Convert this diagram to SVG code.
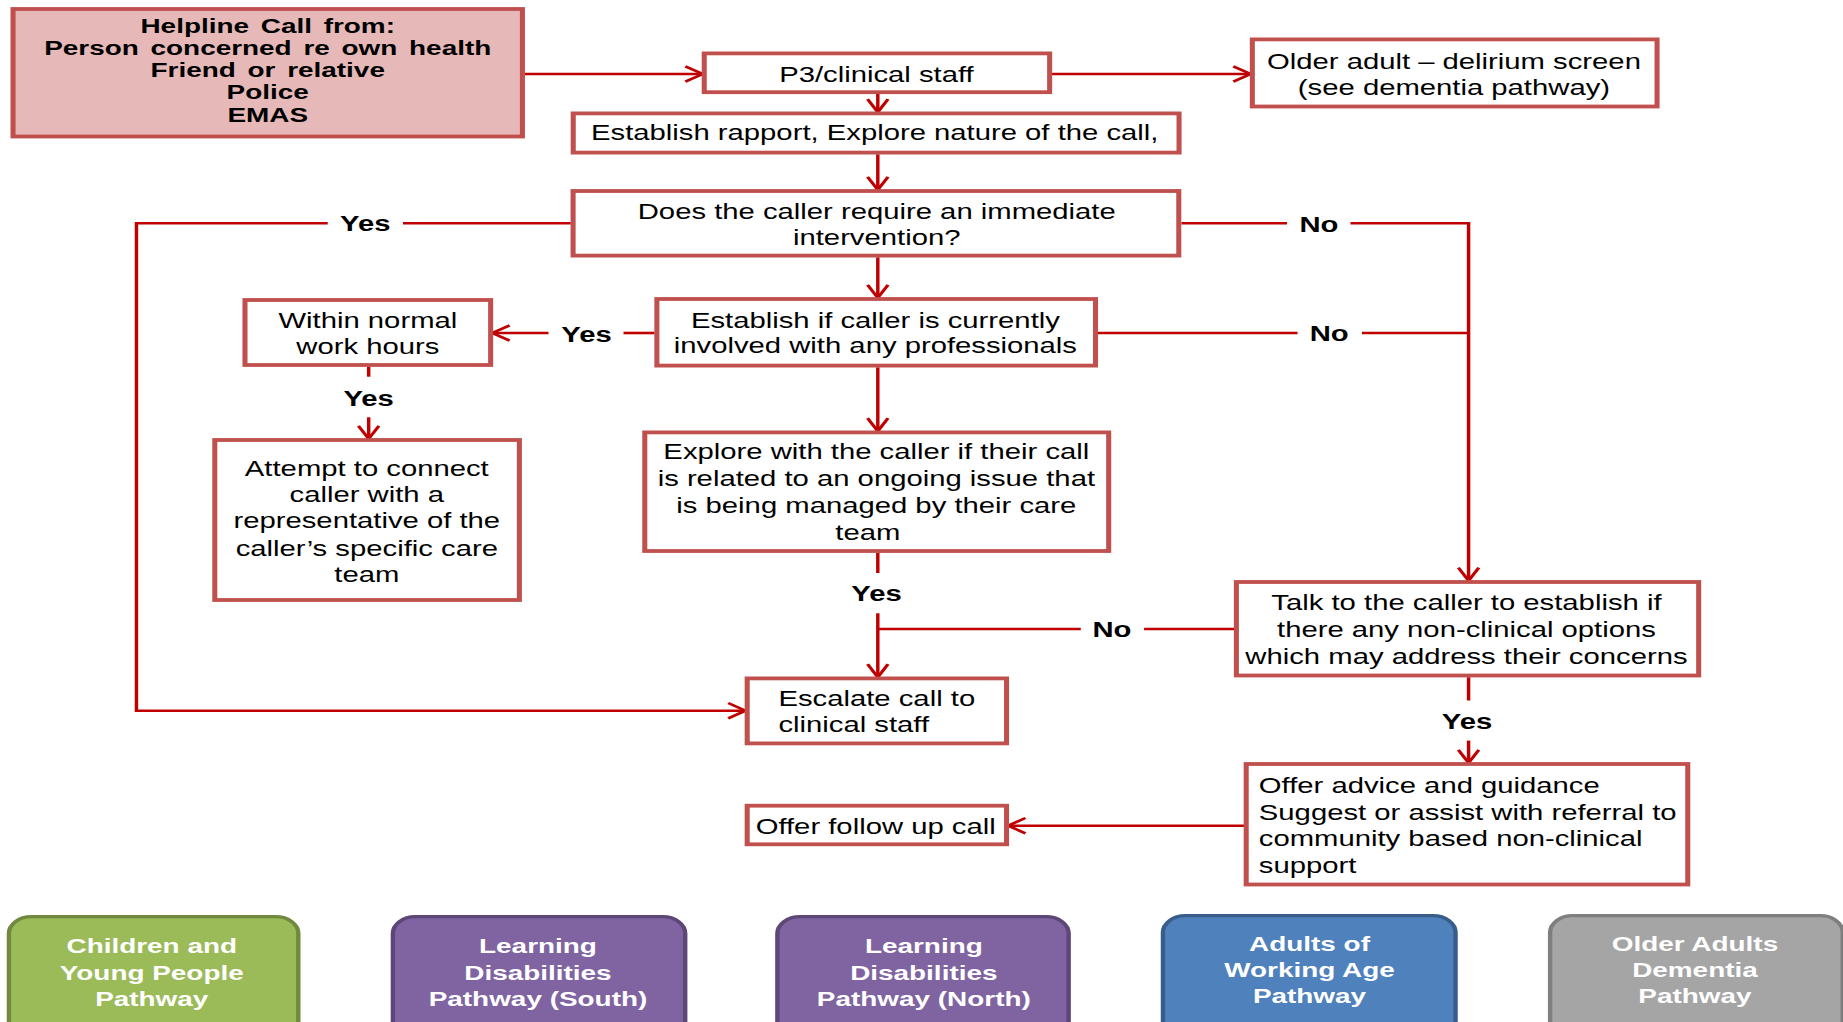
<svg xmlns="http://www.w3.org/2000/svg" width="1843" height="1022" viewBox="0 0 1843 1022">
  <style>
    .box { fill: #FFFFFF; stroke: #C0504D; stroke-width: 3.8; }
    .src { fill: #E6B8B7; }
    .t { font-family: "Liberation Sans", Arial, sans-serif; font-size: 22px; fill: #000000; text-anchor: middle; }
    .b { font-weight: bold; font-size: 21px; }
    .lbl { font-size: 22px; }
    .ws { word-spacing: 3px; }
    .l { text-anchor: start; }
    .w { fill: #FFFFFF; }
    .c { fill: none; stroke: #C00000; stroke-width: 2.6; }
    .ar { marker-end: url(#arr); }
    .pw { stroke-width: 3.3; }
    .green { fill: #9BBB59; stroke: #71893F; }
    .purple { fill: #8064A2; stroke: #5C4776; }
    .blue { fill: #4F81BD; stroke: #385D8A; }
    .grey { fill: #A5A5A5; stroke: #7F7F7F; }
  </style>
  <defs>
    <marker id="arr" markerUnits="userSpaceOnUse" markerWidth="20" markerHeight="20" refX="12.5" refY="7.7" orient="auto" overflow="visible">
      <path d="M0,0 L13,7.7 L0,15.4" fill="none" stroke="#C00000" stroke-width="2.6"/>
    </marker>
  </defs>

  <rect width="1843" height="1022" fill="#FFFFFF"/>

  <!-- the chart is laid out in a narrower space and stretched sideways -->
  <g transform="scale(1.33 1)">

    <g id="connectors">
      <path class="c ar" d="M394.5,74 H527.8"/>
      <path class="c ar" d="M791,74 H939.8"/>
      <path class="c ar" d="M660,94 V111.7"/>
      <path class="c ar" d="M660,154.3 V189.3"/>
      <path class="c ar" d="M660,257.3 V297.3"/>
      <path class="c ar" d="M660,367.3 V430.7"/>
      <path class="c" d="M660,552.7 V573"/>
      <path class="c ar" d="M660,613.3 V676.7"/>
      <path class="c" d="M927.8,629 H860.2"/>
      <path class="c" d="M812.6,629 H660"/>
      <path class="c" d="M429.1,223.3 H303"/>
      <path class="c ar" d="M246.4,223.3 H102.6 V710.7 H560"/>
      <path class="c" d="M888.3,223.3 H967.7"/>
      <path class="c ar" d="M1015.4,223.3 H1104.2 V580.2"/>
      <path class="c" d="M825.4,333 H975.6"/>
      <path class="c" d="M1024,333 H1104.2"/>
      <path class="c" d="M492.1,333 H468.8"/>
      <path class="c ar" d="M412.4,333 H370.7"/>
      <path class="c" d="M277.2,366.7 V376.7"/>
      <path class="c ar" d="M277.2,417.3 V438.3"/>
      <path class="c" d="M1104.2,677.2 V700.5"/>
      <path class="c ar" d="M1104.2,740.6 V762.3"/>
      <path class="c ar" d="M935.3,825.7 H758.5"/>

      <text class="t b lbl" x="274.6" y="231">Yes</text>
      <text class="t b lbl" x="991.7" y="232">No</text>
      <text class="t b lbl" x="441" y="341.7">Yes</text>
      <text class="t b lbl" x="999.4" y="341">No</text>
      <text class="t b lbl" x="277.2" y="406">Yes</text>
      <text class="t b lbl" x="659" y="600.7">Yes</text>
      <text class="t b lbl" x="836" y="636.7">No</text>
      <text class="t b lbl" x="1103" y="729">Yes</text>
    </g>

    <g id="helpline-call">
      <rect class="box src" x="9.8" y="9" width="383" height="127.5"/>
      <text class="t b ws" x="201.3" y="33.3">Helpline  Call from:</text>
      <text class="t b ws" x="201.3" y="55">Person concerned re own health</text>
      <text class="t b ws" x="201.3" y="77.3">Friend or relative</text>
      <text class="t b ws" x="201.3" y="99.3">Police</text>
      <text class="t b ws" x="201.3" y="121.7">EMAS</text>
    </g>

    <g id="p3-clinical-staff">
      <rect class="box" x="529.5" y="53.4" width="259.7" height="38.8"/>
      <text class="t" x="659" y="82">P3/clinical staff</text>
    </g>

    <g id="older-adult-delirium">
      <rect class="box" x="941.6" y="39.4" width="304.3" height="67.1"/>
      <text class="t" x="1093.2" y="69">Older adult – delirium screen</text>
      <text class="t" x="1093.2" y="95">(see dementia pathway)</text>
    </g>

    <g id="establish-rapport">
      <rect class="box" x="431" y="113.4" width="455.5" height="39.2"/>
      <text class="t" x="657.7" y="140">Establish rapport, Explore nature of the call,</text>
    </g>

    <g id="immediate-intervention">
      <rect class="box" x="430.9" y="191" width="455.4" height="64.6"/>
      <text class="t" x="659.2" y="219.3">Does the caller require an immediate</text>
      <text class="t" x="659.2" y="245">intervention?</text>
    </g>

    <g id="involved-with-professionals">
      <rect class="box" x="493.9" y="299" width="329.8" height="66.6"/>
      <text class="t" x="658.2" y="327.7">Establish if caller is currently</text>
      <text class="t" x="658.2" y="353.3">involved with any professionals</text>
    </g>

    <g id="ongoing-issue">
      <rect class="box" x="484.8" y="432.4" width="348.8" height="118.6"/>
      <text class="t" x="658.9" y="459.3">Explore with the caller if their call</text>
      <text class="t" x="658.9" y="486">is related to an ongoing issue that</text>
      <text class="t" x="658.9" y="512.7">is being managed by their care</text>
      <text class="t" x="652.5" y="540">team</text>
    </g>

    <g id="normal-work-hours">
      <rect class="box" x="184.2" y="300" width="184.7" height="65"/>
      <text class="t" x="276.6" y="328.3">Within normal</text>
      <text class="t" x="276.6" y="354">work hours</text>
    </g>

    <g id="connect-care-team">
      <rect class="box" x="161.5" y="440" width="229" height="160"/>
      <text class="t" x="275.8" y="476">Attempt to connect</text>
      <text class="t" x="275.8" y="501.7">caller with a</text>
      <text class="t" x="275.8" y="528.3">representative of the</text>
      <text class="t" x="275.8" y="556">caller’s specific care</text>
      <text class="t" x="275.8" y="582.3">team</text>
    </g>

    <g id="escalate-call">
      <rect class="box" x="561.8" y="678.4" width="195" height="65"/>
      <text class="t l" x="585.3" y="705.7">Escalate call to</text>
      <text class="t l" x="585.3" y="731.7">clinical staff</text>
    </g>

    <g id="follow-up-call">
      <rect class="box" x="561.8" y="805.7" width="195" height="38.6"/>
      <text class="t" x="658.4" y="834">Offer follow up call</text>
    </g>

    <g id="non-clinical-options">
      <rect class="box" x="929.6" y="582" width="347.6" height="93.5"/>
      <text class="t" x="1102.6" y="610">Talk to the caller to establish if</text>
      <text class="t" x="1102.6" y="637">there any non-clinical options</text>
      <text class="t" x="1102.6" y="664">which may address their concerns</text>
    </g>

    <g id="advice-guidance">
      <rect class="box" x="937" y="764" width="332" height="120.5"/>
      <text class="t l" x="946.5" y="793">Offer advice and guidance</text>
      <text class="t l" x="946.5" y="819.7">Suggest or assist with referral to</text>
      <text class="t l" x="946.5" y="846.3">community based non-clinical</text>
      <text class="t l" x="946.5" y="873">support</text>
    </g>

    <g id="pathway-children">
      <rect class="green pw" x="6.7" y="916.6" width="217.6" height="130" rx="17" ry="17"/>
      <text class="t b w" x="114.1" y="953.3">Children and</text>
      <text class="t b w" x="114.1" y="980">Young People</text>
      <text class="t b w" x="114.1" y="1006">Pathway</text>
    </g>

    <g id="pathway-ld-south">
      <rect class="purple pw" x="295.4" y="916.6" width="219.8" height="130" rx="17" ry="17"/>
      <text class="t b w" x="404.5" y="953.3">Learning</text>
      <text class="t b w" x="404.5" y="980">Disabilities</text>
      <text class="t b w" x="404.5" y="1006">Pathway (South)</text>
    </g>

    <g id="pathway-ld-north">
      <rect class="purple pw" x="584.5" y="916.6" width="219" height="130" rx="17" ry="17"/>
      <text class="t b w" x="694.6" y="953.3">Learning</text>
      <text class="t b w" x="694.6" y="980">Disabilities</text>
      <text class="t b w" x="694.6" y="1006">Pathway (North)</text>
    </g>

    <g id="pathway-working-age">
      <rect class="blue pw" x="874.4" y="915.6" width="220" height="130" rx="17" ry="17"/>
      <text class="t b w" x="984.6" y="950.7">Adults of</text>
      <text class="t b w" x="984.6" y="977">Working Age</text>
      <text class="t b w" x="984.6" y="1003">Pathway</text>
    </g>

    <g id="pathway-dementia">
      <rect class="grey pw" x="1165.5" y="915.6" width="220" height="130" rx="17" ry="17"/>
      <text class="t b w" x="1274.4" y="950.7">Older Adults</text>
      <text class="t b w" x="1274.4" y="977">Dementia</text>
      <text class="t b w" x="1274.4" y="1003">Pathway</text>
    </g>

  </g>
</svg>
